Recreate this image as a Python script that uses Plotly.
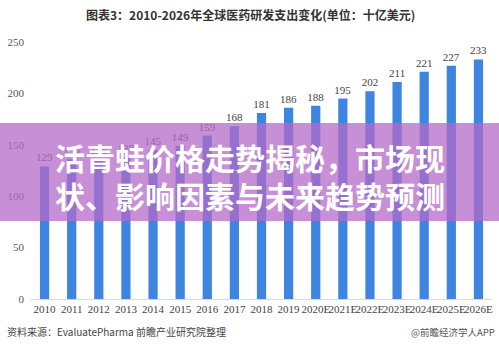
import plotly.graph_objects as go

years = ["2010", "2011", "2012", "2013", "2014", "2015", "2016", "2017", "2018",
         "2019", "2020E", "2021E", "2022E", "2023E", "2024E", "2025E", "2026E"]
spend = [129, 136, 136, 138, 145, 149, 159, 168, 181, 186, 188, 195, 202, 211, 221, 227, 233]
y_ticks = [0, 50, 100, 150, 200, 250]

title_text = "图表3：2010-2026年全球医药研发支出变化(单位：十亿美元)"
source_text = "资料来源：EvaluatePharma 前瞻产业研究院整理"
brand_text = "@前瞻经济学人APP"
banner_lines = ["活青蛙价格走势揭秘，市场现", "状、影响因素与未来趋势预测"]

W, H = 499, 347
L, R, T, B = 31, 7, 42, 48
pw, ph = W - L - R, H - T - B

def px(x):
    return (x - L) / pw

def py(y):
    return (H - B - y) / ph

fig = go.Figure()
fig.add_trace(go.Bar(
    x=years, y=spend,
    marker=dict(color="#3d85e0", line=dict(width=0)),
    width=0.34,
    text=[str(v) for v in spend],
    textposition="outside",
    constraintext="none",
    textfont=dict(family="Liberation Serif", size=11, color="#444444"),
    cliponaxis=False,
))

fig.update_layout(
    width=W, height=H,
    margin=dict(l=L, r=R, t=T, b=B),
    paper_bgcolor="white", plot_bgcolor="white",
    showlegend=False,
    bargap=0.6,
    xaxis=dict(
        type="category",
        showline=True, linecolor="#d9d9d9", linewidth=1,
        ticks="", showgrid=False,
        tickfont=dict(family="Liberation Serif", size=11, color="#444444"),
        tickangle=0,
    ),
    yaxis=dict(
        range=[0, 250],
        tickvals=y_ticks,
        ticktext=[str(v) for v in y_ticks],
        showgrid=False, zeroline=False, showline=False,
        tickfont=dict(family="Liberation Serif", size=11, color="#555555"),
        ticklabelstandoff=6,
    ),
    font=dict(family="Noto Sans CJK SC"),
)

annotations = [
    dict(text="<b>" + title_text + "</b>", x=px(250), y=py(15), xref="paper", yref="paper",
         showarrow=False, xanchor="center", yanchor="middle",
         font=dict(family="Noto Sans CJK SC", size=12, color="#333333")),
    dict(text=source_text, x=px(5), y=py(331), xref="paper", yref="paper",
         showarrow=False, xanchor="left", yanchor="middle",
         font=dict(family="Noto Sans CJK SC", size=10, color="#444444")),
    dict(text=brand_text, x=px(497), y=py(332), xref="paper", yref="paper",
         showarrow=False, xanchor="right", yanchor="middle",
         font=dict(family="Noto Sans CJK SC", size=9.5, color="#555555")),
]
for line, yc in zip(banner_lines, [157, 195]):
    annotations.append(dict(
        text="<b>" + line + "</b>", x=px(250), y=py(yc), xref="paper", yref="paper",
        showarrow=False, xanchor="center", yanchor="middle",
        font=dict(family="Noto Sans CJK SC", size=30, color="white")))
fig.update_layout(annotations=annotations)

fig.add_shape(type="rect", xref="paper", yref="paper",
              x0=px(-2), x1=px(W + 2), y0=py(221), y1=py(123),
              fillcolor="rgba(180,105,200,0.75)", line=dict(width=0), layer="above")

fig.write_html("out.html")
